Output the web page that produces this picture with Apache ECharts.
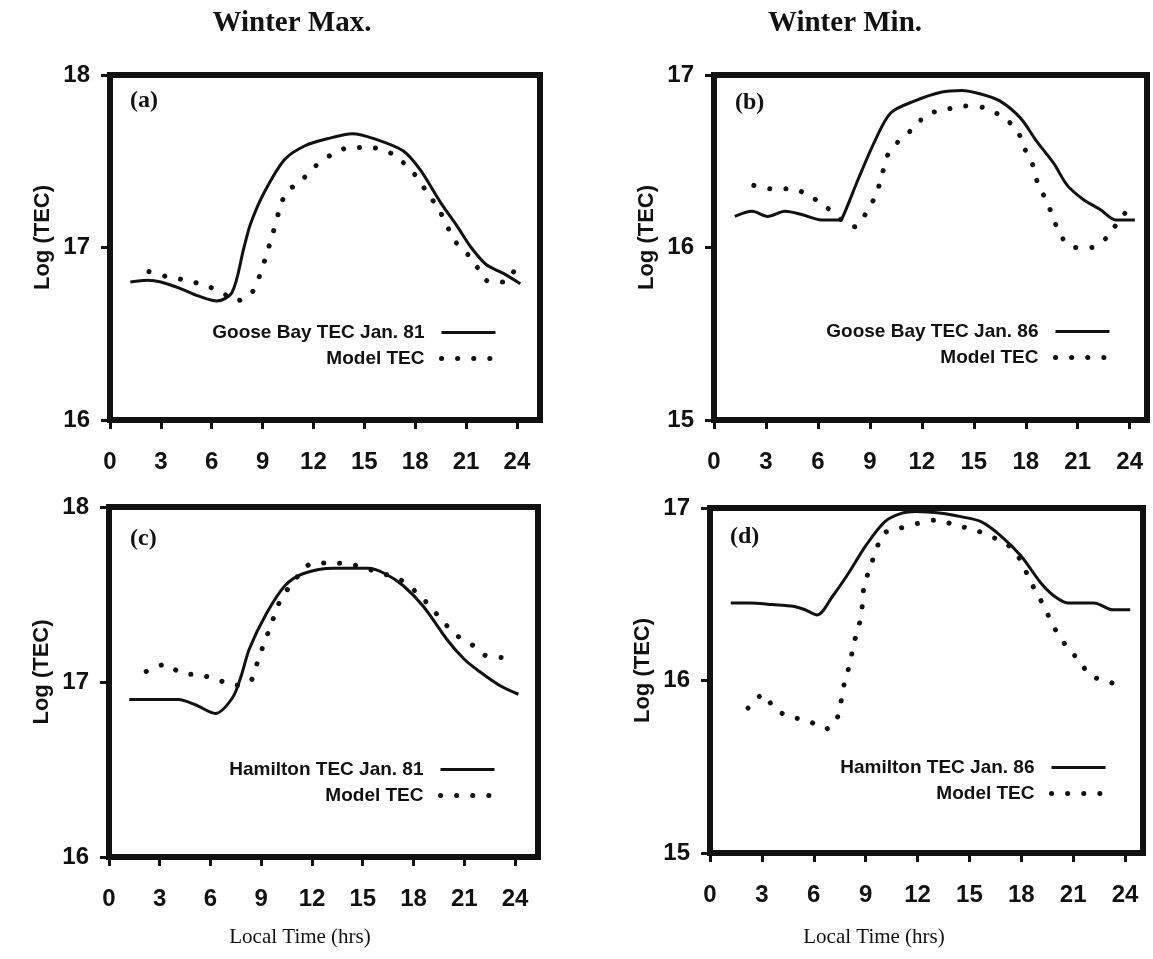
<!DOCTYPE html>
<html>
<head>
<meta charset="utf-8">
<style>
    *{box-sizing: border-box;}
    body,html{margin:0;padding:0;width:100%;height:100%;background:#fff;}
    #chart{width:1153px;height:959px;}
</style>
<script src="https://cdn.jsdelivr.net/npm/echarts@6/dist/echarts.min.js"></script>
</head>
<body>
<div id="chart"></div>
<script>
// hour ticks shared by all panels
var hourTicks = [0, 3, 6, 9, 12, 15, 18, 21, 24];

// (a) Goose Bay, Jan 81 (winter max)
var gooseObs81 = [[1.2,16.80],[2.2,16.81],[3.0,16.80],[4.2,16.76],[5.2,16.72],[6.3,16.69],[7.2,16.74],[7.9,17.00],[8.3,17.14],[9.1,17.32],[10.3,17.51],[11.5,17.59],[12.8,17.63],[14.3,17.66],[15.6,17.63],[17.3,17.56],[18.3,17.45],[19.5,17.26],[20.5,17.12],[21.3,17.00],[22.2,16.90],[23.2,16.85],[24.2,16.79]];
var gooseModel81 = [[2.3,16.86],[3.4,16.83],[4.5,16.81],[5.6,16.78],[6.6,16.74],[7.4,16.69],[8.3,16.73],[8.8,16.83],[9.2,16.95],[9.6,17.08],[10.0,17.22],[10.4,17.32],[11.2,17.38],[12.1,17.47],[13.1,17.54],[14.2,17.58],[15.2,17.58],[16.3,17.56],[17.2,17.50],[18.0,17.42],[18.7,17.32],[19.4,17.22],[19.9,17.12],[20.4,17.03],[21.1,16.96],[21.7,16.88],[22.4,16.80],[23.3,16.80],[24.0,16.90]];

// (b) Goose Bay, Jan 86 (winter min)
var gooseObs86 = [[1.2,16.18],[2.2,16.21],[3.1,16.18],[4.1,16.21],[5.1,16.19],[6.2,16.16],[7.2,16.16],[7.4,16.17],[8.3,16.39],[9.3,16.62],[10.2,16.78],[11.6,16.85],[13.1,16.90],[14.3,16.91],[15.4,16.89],[16.5,16.85],[17.7,16.75],[18.6,16.62],[19.6,16.49],[20.4,16.36],[21.3,16.28],[22.3,16.22],[23.2,16.16],[24.3,16.16]];
var gooseModel86 = [[2.3,16.36],[3.3,16.34],[4.5,16.34],[5.5,16.30],[6.4,16.24],[8.1,16.12],[8.9,16.22],[9.4,16.32],[9.7,16.42],[10.0,16.53],[10.6,16.61],[11.5,16.69],[12.3,16.77],[13.4,16.80],[14.4,16.82],[15.6,16.81],[16.6,16.76],[17.5,16.68],[17.9,16.58],[18.4,16.48],[18.7,16.37],[19.2,16.27],[19.6,16.17],[20.0,16.07],[20.8,16.00],[21.8,16.00],[22.7,16.06],[23.4,16.16],[24.1,16.24]];

// (c) Hamilton, Jan 81 (winter max)
var hamObs81 = [[1.2,16.90],[2.4,16.90],[4.1,16.90],[5.1,16.87],[6.3,16.82],[7.3,16.91],[7.8,17.03],[8.3,17.19],[9.3,17.39],[10.4,17.55],[11.5,17.62],[13.3,17.65],[15.3,17.65],[16.3,17.62],[17.4,17.55],[18.6,17.43],[20.0,17.24],[21.0,17.13],[21.9,17.06],[23.1,16.98],[24.2,16.93]];
var hamModel81 = [[2.2,17.06],[3.3,17.10],[4.3,17.05],[5.4,17.04],[6.5,17.01],[7.4,16.98],[8.4,17.01],[8.8,17.12],[9.2,17.23],[9.6,17.33],[10.0,17.44],[10.8,17.56],[12.1,17.68],[13.3,17.68],[14.4,17.67],[15.5,17.64],[17.3,17.58],[18.2,17.51],[19.0,17.43],[19.8,17.34],[20.5,17.27],[21.5,17.21],[22.3,17.15],[23.5,17.14]];

// (d) Hamilton, Jan 86 (winter min)
var hamObs86 = [[1.2,16.45],[2.3,16.45],[3.6,16.44],[4.8,16.43],[5.5,16.41],[6.2,16.38],[7.1,16.49],[8.0,16.62],[9.0,16.78],[10.1,16.92],[11.1,16.97],[11.9,16.98],[13.4,16.97],[14.5,16.95],[15.7,16.92],[16.8,16.84],[18.0,16.72],[19.1,16.57],[19.9,16.49],[20.7,16.45],[22.2,16.45],[23.3,16.41],[24.3,16.41]];
var hamModel86 = [[2.2,15.84],[3.1,15.92],[3.7,15.84],[4.6,15.79],[5.6,15.77],[6.7,15.72],[7.3,15.77],[7.6,15.89],[7.8,16.00],[8.1,16.10],[8.3,16.21],[8.6,16.31],[8.8,16.43],[8.9,16.54],[9.2,16.64],[9.6,16.75],[10.0,16.85],[10.9,16.88],[12.0,16.91],[13.1,16.93],[14.2,16.90],[15.4,16.87],[17.3,16.78],[18.0,16.69],[18.5,16.58],[19.0,16.49],[19.5,16.39],[20.0,16.29],[20.6,16.20],[21.3,16.12],[22.0,16.03],[22.8,16.00],[23.8,15.97]];

var panels = [
    {obsName:'Goose Bay TEC Jan. 81', obs:gooseObs81, model:gooseModel81, ymin:16, ymax:18, xmax:25.36,
     grid:{left:110, top:75, width:430, height:345}, legendRight:650, legendTop:318, tag:'(a)', tagX:146, tagY:102},
    {obsName:'Goose Bay TEC Jan. 86', obs:gooseObs86, model:gooseModel86, ymin:15, ymax:17, xmax:25,
     grid:{left:714, top:75, width:433, height:345}, legendRight:36, legendTop:317, tag:'(b)', tagX:751, tagY:104},
    {obsName:'Hamilton TEC Jan. 81', obs:hamObs81, model:hamModel81, ymin:16, ymax:18, xmax:25.36,
     grid:{left:109, top:507, width:429, height:350}, legendRight:651, legendTop:755, tag:'(c)', tagX:146, tagY:540},
    {obsName:'Hamilton TEC Jan. 86', obs:hamObs86, model:hamModel86, ymin:15, ymax:17, xmax:25.04,
     grid:{left:710, top:508, width:433, height:345}, legendRight:40, legendTop:753, tag:'(d)', tagX:746, tagY:538}
];

var chart = echarts.init(document.getElementById('chart'));

var grids = [], xAxes = [], yAxes = [], series = [], legends = [], texts = [];
var labelFont = {color:'#111', fontFamily:'Liberation Sans', fontWeight:'bold', fontSize:24};

panels.forEach(function(p, i){
    grids.push({left:p.grid.left, top:p.grid.top, width:p.grid.width, height:p.grid.height,
        show:true, borderColor:'#111', borderWidth:6, backgroundColor:'transparent'});
    xAxes.push({type:'value', gridIndex:i, min:0, max:p.xmax,
        axisLine:{show:false}, splitLine:{show:false},
        axisTick:{show:true, length:9, lineStyle:{color:'#111', width:3}, customValues:hourTicks},
        axisLabel:Object.assign({margin:30, customValues:hourTicks}, labelFont)});
    yAxes.push({type:'value', gridIndex:i, min:p.ymin, max:p.ymax, interval:1,
        axisLine:{show:false}, splitLine:{show:false},
        axisTick:{show:true, length:9, lineStyle:{color:'#111', width:3}},
        axisLabel:Object.assign({margin:20}, labelFont)});
    series.push({type:'line', name:p.obsName, xAxisIndex:i, yAxisIndex:i, data:p.obs,
        symbol:'none', smooth:0.3, lineStyle:{color:'#111', width:3}, itemStyle:{color:'#111'}});
    series.push({type:'line', name:'Model TEC', xAxisIndex:i, yAxisIndex:i, data:p.model,
        symbol:'none', smooth:0.3, lineStyle:{color:'#111', width:5, type:[0.1, 16], cap:'round'}, itemStyle:{color:'#111'}});
    legends.push({orient:'vertical', align:'right', right:p.legendRight, top:p.legendTop,
        itemWidth:54, itemHeight:20, itemGap:7,
        data:[p.obsName, 'Model TEC'], selectedMode:false,
        itemStyle:{opacity:0, color:'transparent', borderWidth:0},
        lineStyle:{width:'inherit'},
        textStyle:{color:'#111', fontFamily:'Liberation Sans', fontWeight:'bold', fontSize:19, padding:[0,12,0,0]}});
    texts.push({type:'text', left:p.tagX - 16, top:p.tagY - 13,
        style:{text:p.tag, font:'bold 24px "Liberation Serif"', fill:'#111'}});
    var yMid = p.grid.top + p.grid.height / 2 - 10;
    texts.push({type:'text', x:p.grid.left - 67, y:yMid, rotation:Math.PI/2,
        style:{text:'Log (TEC)', font:'bold 22px "Liberation Sans"', fill:'#111', align:'center', verticalAlign:'middle'}});
});

texts.push({type:'text', x:292, y:24, style:{text:'Winter Max.', font:'bold 29px "Liberation Serif"', fill:'#111', align:'center', verticalAlign:'middle'}});
texts.push({type:'text', x:845, y:24, style:{text:'Winter Min.', font:'bold 29px "Liberation Serif"', fill:'#111', align:'center', verticalAlign:'middle'}});
texts.push({type:'text', x:300, y:937, style:{text:'Local Time (hrs)', font:'21px "Liberation Serif"', fill:'#111', align:'center', verticalAlign:'middle'}});
texts.push({type:'text', x:874, y:937, style:{text:'Local Time (hrs)', font:'21px "Liberation Serif"', fill:'#111', align:'center', verticalAlign:'middle'}});

chart.setOption({
    animation:false,
    backgroundColor:'#fff',
    grid:grids,
    xAxis:xAxes,
    yAxis:yAxes,
    legend:legends,
    series:series,
    graphic:texts
});
</script>
</body>
</html>
